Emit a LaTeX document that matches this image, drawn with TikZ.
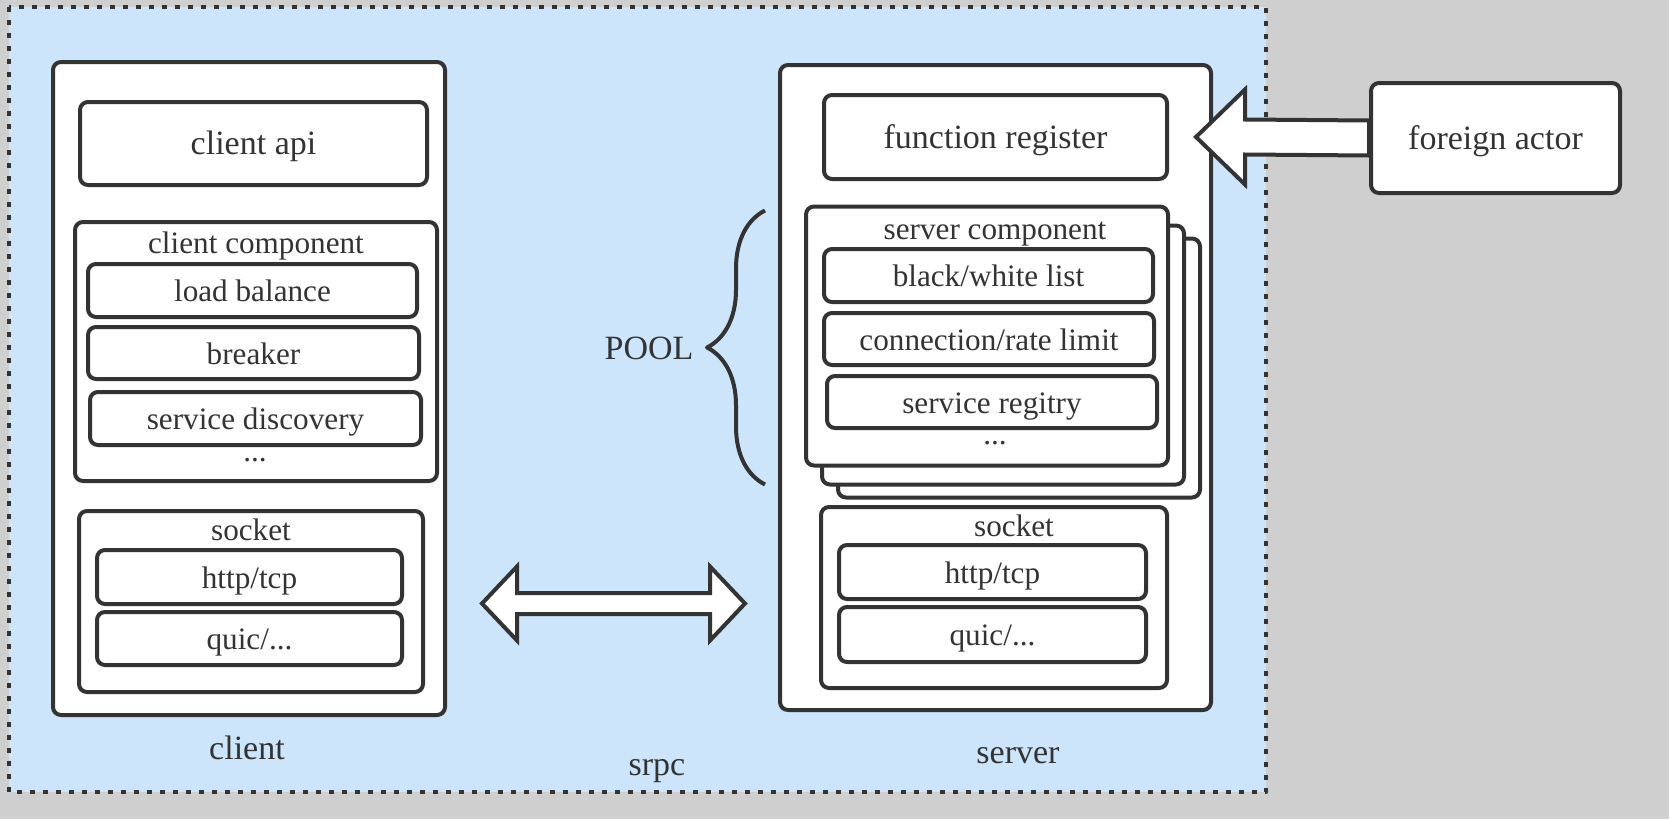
\documentclass[tikz,border=0pt]{standalone}
\usepackage{fontspec}
\setmainfont{Liberation Serif}
\usepackage{xcolor}
\usepackage{tikz}
\usetikzlibrary{calc,decorations.pathreplacing}
\definecolor{ink}{HTML}{333333}
\definecolor{skyblue}{HTML}{CCE5FB}
\definecolor{outside}{HTML}{CFCFCF}

\begin{document}
\begin{tikzpicture}[x=0.5pt, y=-0.5pt, line width=2pt, line join=round,
   box/.style={draw=ink, fill=white, rounded corners=4pt, inner sep=0pt, text=ink, text height=12.8pt, text depth=1.8pt, font=\fontsize{15.6}{18}\selectfont},
   bigbox/.style={box, font=\fontsize{17}{20}\selectfont},
   txt/.style={inner sep=0pt, text=ink, anchor=base, font=\fontsize{15.6}{18}\selectfont},
   bigtxt/.style={txt, font=\fontsize{17}{20}\selectfont},
   fat/.style={draw=ink, fill=white, line width=2pt, line join=miter}]
   \useasboundingbox (0 , 0) rectangle (1669 , 819);
   \fill [outside] (0 , 0) rectangle (1669 , 819);
   \draw [draw=ink, fill=skyblue, line width=2.4pt, dash pattern=on 2.4pt off 4.1pt] (9 , 7) rectangle (1266 , 792);

   % client side
   \node [box, minimum width=196pt, minimum height=326.5pt] (client) at (249 , 388.5) {};
   \node [bigbox, minimum width=173.5pt, minimum height=41.5pt] (capi) at (253.5 , 143.5) {client api};
   \node [box, minimum width=181pt, minimum height=129.5pt] (ccomp) at (256 , 351.5) {};
   \node [txt] (ccompt) at (256 , 253) {client component};
   \node [box, minimum width=164.5pt, minimum height=26.5pt] (lb) at (252.5 , 290.5) {load balance};
   \node [box, minimum width=165.5pt, minimum height=26pt] (brk) at (253.5 , 353) {breaker};
   \node [box, minimum width=165.5pt, minimum height=26.5pt] (sd) at (255.5 , 418.5) {service discovery};
   \node [txt] (cdots) at (255 , 461) {...};
   \node [box, minimum width=172pt, minimum height=90.5pt] (csock) at (251 , 601.5) {};
   \node [txt] (csockt) at (251 , 540) {socket};
   \node [box, minimum width=152.5pt, minimum height=27pt] (chttp) at (249.5 , 577) {http/tcp};
   \node [box, minimum width=152.5pt, minimum height=26.5pt] (cquic) at (249.5 , 638.5) {quic/...};
   \node [bigtxt] (clientt) at (247 , 759) {client};

   % server side
   \node [box, minimum width=215.5pt, minimum height=322.5pt] (server) at (995.5 , 387.5) {};
   \node [bigbox, minimum width=171.5pt, minimum height=42pt] (freg) at (995.5 , 137) {function register};
   \node [box, minimum width=181pt, minimum height=129.5pt] (scomp3) at (1019 , 368) {};
   \node [box, minimum width=181pt, minimum height=129.5pt] (scomp2) at (1003 , 355) {};
   \node [box, minimum width=181pt, minimum height=129.5pt] (scomp) at (987 , 336) {};
   \node [txt] (scompt) at (995 , 239) {server component};
   \node [box, minimum width=164.5pt, minimum height=26.5pt] (bwl) at (988.5 , 275.5) {black/white list};
   \node [box, minimum width=165pt, minimum height=26pt] (crl) at (989 , 339) {connection/rate limit};
   \node [box, minimum width=165pt, minimum height=26pt] (sreg) at (992 , 402) {service regitry};
   \node [txt] (sdots) at (995 , 444) {...};
   \node [box, minimum width=173pt, minimum height=90.5pt] (ssock) at (994 , 597.5) {};
   \node [txt] (ssockt) at (1014 , 536) {socket};
   \node [box, minimum width=153.5pt, minimum height=27pt] (shttp) at (992.5 , 572) {http/tcp};
   \node [box, minimum width=153.5pt, minimum height=27.5pt] (squic) at (992.5 , 634.5) {quic/...};
   \node [bigtxt] (servert) at (1018 , 763) {server};

   \node [bigbox, minimum width=124.5pt, minimum height=55pt] (foreign) at (1495.5 , 138) {foreign actor};
   \node [bigtxt] (srpc) at (657 , 775) {srpc};
   \node [bigtxt] (pool) at (649 , 359) {POOL};

   \draw [ink, decorate, decoration={brace, amplitude=29pt}]
      ($(scomp.north west |- scomp3.south)+(-39 , -15)$) -- ($(scomp.north west)+(-39 , 6)$);

   % connectors
   \coordinate (dl) at ($(client.east |- csock.center)+(35 , 2)$);
   \coordinate (dr) at ($(server.west |- csock.center)+(-33 , 2)$);
   \draw [fat] (dl) -- ($(dl)+(35 , -37)$) -- ($(dl)+(35 , -10.5)$) -- ($(dr)+(-35 , -10.5)$)
      -- ($(dr)+(-35 , -37)$) -- (dr) -- ($(dr)+(-35 , 37)$) -- ($(dr)+(-35 , 10.5)$)
      -- ($(dl)+(35 , 10.5)$) -- ($(dl)+(35 , 37)$) -- cycle;

   \coordinate (tip) at ($(freg.east)+(27 , 0)$);
   \draw [fat] (tip) -- ($(tip)+(49 , -47.5)$) -- ($(tip)+(49 , -17.5)$) -- ($(foreign.west)+(0 , -17.5)$)
      -- ($(foreign.west)+(0 , 17.5)$) -- ($(tip)+(49 , 17.5)$) -- ($(tip)+(49 , 47.5)$) -- cycle;
\end{tikzpicture}
\end{document}
